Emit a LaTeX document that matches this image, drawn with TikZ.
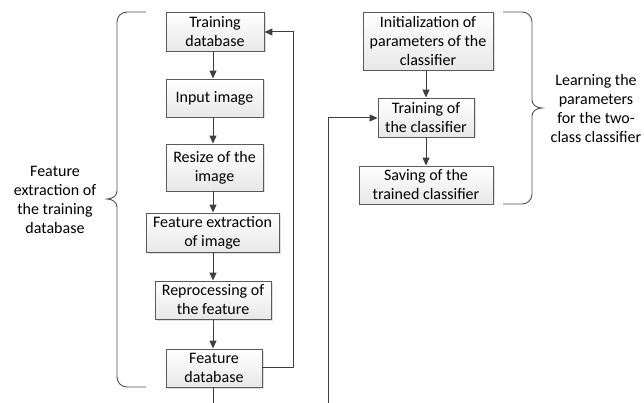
\documentclass[tikz,border=0pt]{standalone}
\usepackage{fontspec}
\setmainfont{Carlito}
\usetikzlibrary{arrows.meta,shadows}
\definecolor{boxline}{HTML}{5A5A5A}
\definecolor{arrowline}{HTML}{3F3F3F}
\definecolor{braceline}{HTML}{505050}
\tikzset{
  stepbox/.style={draw=boxline, line width=0.9pt, top color=white, bottom color=gray!18,
    drop shadow={shadow xshift=1.5pt, shadow yshift=-1.5pt, fill=gray!50, opacity=0.5},
    align=center, inner sep=0pt, font=\fontsize{16}{19}\selectfont},
  flow/.style={draw=arrowline, line width=1pt, -{Triangle[width=7pt,length=8pt]}},
  plainflow/.style={draw=arrowline, line width=1pt},
  brace/.style={draw=braceline, line width=0.9pt},
  label/.style={align=center, font=\fontsize{16}{19}\selectfont, inner sep=0pt}
}
\begin{document}
\begin{tikzpicture}[x=1pt,y=-1pt]
\useasboundingbox (0,0) rectangle (644,403);

% left column: feature extraction of the training set
\node[stepbox, minimum width=98pt, minimum height=39pt] (td) at (215,31.5) {Training\\database};
\node[stepbox, minimum width=97pt, minimum height=38pt] (ii) at (214.5,98) {Input image};
\node[stepbox, minimum width=97pt, minimum height=47pt] (rs) at (214.5,167.5) {Resize of the\\image};
\node[stepbox, minimum width=133pt, minimum height=39pt] (fe) at (212.5,232.5) {Feature extraction\\of image};
\node[stepbox, minimum width=116pt, minimum height=38pt] (rp) at (213,300) {Reprocessing of\\the feature};
\node[stepbox, minimum width=96pt, minimum height=38pt] (fd) at (214,368) {Feature\\database};

% right column: classifier learning
\node[stepbox, minimum width=130pt, minimum height=58pt] (ini) at (428,41) {Initialization of\\parameters of the\\classifier};
\node[stepbox, minimum width=96pt, minimum height=39pt] (trc) at (426,117.5) {Training of\\the classifier};
\node[stepbox, minimum width=134pt, minimum height=38pt] (sav) at (426,185) {Saving of the\\trained classifier};

% free ends of the connectors leaving the page
\coordinate (fdout) at (213,403);
\coordinate (lnbot) at (328,403);
\coordinate (lntop) at (328,118);
\coordinate (fbr) at (293,367);
\coordinate (fbt) at (293,32);

% vertical flow
\draw[flow] (td.south -| 213,0) -- (ii.north -| 213,0);
\draw[flow] (ii.south -| 213,0) -- (rs.north -| 213,0);
\draw[flow] (rs.south -| 213,0) -- (fe.north -| 213,0);
\draw[flow] (fe.south -| 213,0) -- (rp.north -| 213,0);
\draw[flow] (rp.south -| 213,0) -- (fd.north -| 213,0);
\draw[plainflow] (fd.south -| 213,0) -- (fdout);

\draw[flow] (ini.south -| 426,0) -- (trc.north -| 426,0);
\draw[flow] (trc.south -| 426,0) -- (sav.north -| 426,0);

% feedback loop to the training database
\draw[flow] (fd.east |- fbr) -- (fbr) -- (fbt) -- (td.east |- fbt);

% feature input to classifier training
\draw[plainflow] (lnbot) -- (lntop);
\draw[flow] (lntop) -- (trc.west |- lntop);

% braces
\draw[brace] (146,12) -- (127,12) to[out=180,in=90] (117,22) -- (117,191)
  to[out=-90,in=0] (107,199) to[out=0,in=90] (117,207) -- (117,377)
  to[out=-90,in=180] (127,387) -- (146,387);
\draw[brace] (503,12) -- (522,12) to[out=0,in=90] (532,22) -- (532,100)
  to[out=-90,in=180] (542,108) to[out=180,in=90] (532,116) -- (532,194)
  to[out=-90,in=0] (522,204) -- (503,204);

% brace labels
\node[label] (lbl1) at (55,200) {Feature\\extraction of\\the training\\database};
\node[label] (lbl2) at (596,109) {Learning the\\parameters\\for the two-\\class classifier};
\end{tikzpicture}
\end{document}
